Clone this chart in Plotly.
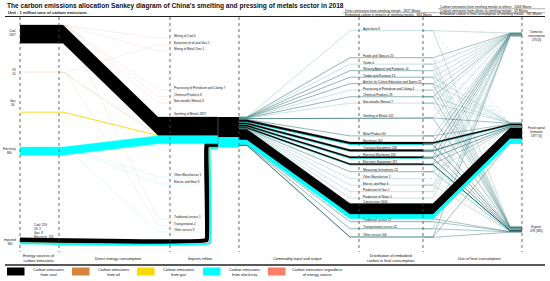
import plotly.graph_objects as go

# ---------------- data (1 million tons of carbon emissions) ----------------
energy_sources = ["Coal", "Oil", "Gas", "Electricity"]
direct_by_energy = [1927, 10, 30, 860]
imported_by_energy = [219, 2, 8, 155]
imported_total = 384

inflow_sectors = ["Mining of Coal", "Extraction of oil and Gas", "Mining of Metal Ores",
                  "Processing of Petroleum and Coking", "Chemical Products", "Non-metallic Mineral",
                  "Smelting of Metals", "Other Manufacture", "Electric and Heat",
                  "Traditional service", "Transportation", "Other service"]
inflow_values = [0, 2, 1, 7, 8, 3, 2827, 1, 8, 1, 2, 8]

final_sectors = ["Agriculture", "Foods and Tobacco", "Textile", "Wearing Apparel and Footwear",
                 "Timber and Furniture", "Articles for Culture Education and Sports",
                 "Processing of Petroleum and Coking", "Chemical Products", "Non-metallic Mineral",
                 "Smelting of Metals", "Metal Product", "Machinery", "Transport Equipment",
                 "Electrical Machinery", "Electronic Equipment", "Measuring Instruments",
                 "Other Manufacture", "Electric and Heat", "Production of Gas", "Production of Water",
                 "Construction", "Traditional service", "Transportation service", "Other service"]
final_values = [8, 20, 4, 14, 19, 22, 4, 28, 7, 101, 64, 302, 248, 226, 187, 23, 1, 6, 1, 1, 1606, 21, 24, 106]
to_domestic = [6, 16, 2, 8, 6, 8, 2, 14, 2, 5, 8, 20, 70, 60, 40, 5, 0.5, 4, 1, 1, 0, 8, 8, 40]
to_fcf = [0.5, 0.5, 0.5, 0.5, 6, 2, 0.5, 2, 2, 60, 36, 200, 120, 80, 20, 8, 0, 0.5, 0, 0, 1590, 0.5, 0.5, 10]
to_exports = [2, 4, 2, 6, 7, 12, 2, 12, 3, 36, 20, 82, 58, 86, 127, 10, 0.5, 2, 0, 0, 16, 12, 16, 56]

final_uses = ["Domestic<br>consumption", "Fixed capital<br>formation", "Exports"]
final_use_values = [276, 1877, 478]
final_use_bracket = [0, 0, 385]

summary_left = [("Direct emissions from smelting metals:", 2827),
                ("Embodied carbon in imports of smelting metals:", 384)]
summary_right = [("Carbon emissions from smelting metals to others:", 2446),
                 ("Carbon emissions from others to smelting metals:", 43),
                 ("Embodied carbon in final consumption of smelting metals:", 761)]

column_titles = ["Energy sources of<br>carbon emissions", "Direct energy consumption", "Imports inflow",
                 "Commodity input and output", "Distribution of embodied<br>carbon in final consumption",
                 "Use of final consumption"]
legend_labels = ["Carbon emissions<br>from coal", "Carbon emissions<br>from oil", "Carbon emissions<br>from gas",
                 "Carbon emissions<br>from electricity", "Carbon emissions regardless<br>of energy source"]

# ---------------- styles / layout constants ----------------
COLORS = {"Coal": "#000000", "Oil": "#D2873C", "Gas": "#FFD700", "Electricity": "#00FFFF",
          "Other": "#FA7E63"}
TEAL_DARK = "#2f6e6e"
TEAL_LIGHT = "#9ccaca"
SCALE = 0.0095                       # px per million tons
COL_X = [20, 59, 170, 239, 359, 423, 522]
W, H = 550, 281
FONT = "Liberation Sans, Arial, sans-serif"

energy_top = {"Coal": 25, "Oil": 72, "Gas": 112, "Electricity": 147}
energy_min_w = {"Coal": 1, "Oil": 0.35, "Gas": 0.9, "Electricity": 1}
energy_label_y = {"Coal": 33, "Oil": 72, "Gas": 103, "Electricity": 151}
import_row_y = 239
smelt_top = 117
block_x0, block_x1 = 218, COL_X[3]
riser_x = 205.5
inflow_label_y = [36, 42.5, 49, 88, 94.5, 101, 114, 175, 182, 217, 223.5, 230]
inflow_src = ["Coal", "Oil", "Coal", "Coal", "Coal", "Coal", None, "Electricity", "Electricity",
              "Coal", "Oil", "Electricity"]
row_label_y = [29, 56, 62.5, 69, 75.5, 82, 88.5, 95, 101.5, 116, 134, 140.5, 148, 155, 162, 170,
               177, 183.5, 190, 196.5, 202, 220, 227, 235]
final_top = [33, 123, 227]

fig = go.Figure()
polys = {}
thin = []


def band(px, py, t, color, min_w=0.5, dash=None, opacity=1.0):
    if t >= 1.0:
        xs = list(px) + list(px[::-1])
        ys = list(py) + [y + t for y in py[::-1]]
        b = polys.setdefault(color, ([], []))
        b[0].extend(xs + [None])
        b[1].extend(ys + [None])
    else:
        thin.append((list(px), [y + t / 2 for y in py], color, max(t, min_w), dash, opacity))


# ---- direct energy -> smelting of metals ----
y_cursor = smelt_top
for name, v in zip(energy_sources, direct_by_energy):
    t = v * SCALE
    s = energy_top[name]
    band([COL_X[0], 63, 158, block_x0], [s, s, y_cursor, y_cursor], t, COLORS[name],
         min_w=energy_min_w[name], opacity=0.6 if name == "Oil" else 1.0)
    y_cursor += t
direct_bottom = y_cursor

# ---- other sectors (faint hairlines from energy sources) ----
for lab_y, v, name, src in zip(inflow_label_y, inflow_values, inflow_sectors, inflow_src):
    if src is None:
        continue
    s = energy_top[src] + 0.5
    col = {"Coal": "#e3b9b0", "Oil": "#e8c4a4", "Electricity": "#7fe8e8"}[src]
    thin.append(([COL_X[1], 66, 158, 200], [s, s, lab_y + 2, lab_y + 2], col, 0.45, None, 0.45))

# ---- imports (L-shaped path) ----
imp_lines = []
off = 0.0
for name, v in zip(energy_sources, imported_by_energy):
    t = v * SCALE
    c = off + t / 2
    w = {"Coal": t + 2.8, "Oil": 0.25, "Gas": 0.3, "Electricity": t + 0.5}[name]
    imp_lines.append(([COL_X[0], riser_x + c, riser_x + c, block_x0],
                      [import_row_y + c, import_row_y + c, direct_bottom + c, direct_bottom + c],
                      COLORS[name], w))
    off += t + (1.4 if name == "Coal" else 0.0)

# ---- block composition ----
block_comp = [d + i for d, i in zip(direct_by_energy, imported_by_energy)]
block_total = sum(block_comp)
share = {n: v / block_total for n, v in zip(energy_sources, block_comp)}
comps = [("Coal", share["Coal"] + share["Oil"] + share["Gas"]), ("Electricity", share["Electricity"])]

# ---- outflows: block -> sector rows -> final uses ----
exit_cursor = smelt_top
dom_cursor = {0: final_top[0], 1: final_top[1], 2: final_top[2]}
for i, sec in enumerate(final_sectors):
    v = final_values[i]
    row_top = row_label_y[i] + 1.6
    T = v * SCALE
    if T < 1.2:
        col = TEAL_DARK if v >= 10 else TEAL_LIGHT
        thin.append(([COL_X[3], 247, 350, COL_X[5]], [exit_cursor + T / 2, exit_cursor + T / 2,
                                                        row_top + T / 2, row_top + T / 2],
                     col, max(T, 0.6), None, 0.85))
    else:
        o = 0
        for n, sh in comps:
            t = v * sh * SCALE
            band([COL_X[3], 247, 350, COL_X[5]], [exit_cursor + o, exit_cursor + o, row_top + o, row_top + o],
                 t, COLORS[n])
            o += t
    parts = [to_domestic[i], to_fcf[i], to_exports[i]]
    src_o = 0
    for f, pv in enumerate(parts):
        if pv <= 0:
            continue
        tf = pv * SCALE
        ys = row_top + src_o
        yt = dom_cursor[f]
        if tf < 1.2:
            dash = "dot" if pv < 1 else None
            col = TEAL_DARK if pv >= 10 else ("#7fb0b0" if pv >= 1 else "#a9cccc")
            thin.append(([COL_X[5], 433, 510, COL_X[6]], [ys + tf / 2, ys + tf / 2, yt + tf / 2, yt + tf / 2],
                         col, max(tf, 0.5), dash, 0.8))
        else:
            o = 0
            for n, sh in comps:
                t = pv * sh * SCALE
                band([COL_X[5], 433, 510, COL_X[6]], [ys + o, ys + o, yt + o, yt + o], t, COLORS[n])
                o += t
        src_o += tf
        dom_cursor[f] += tf
    exit_cursor += T

for xs, ys, color, w, dash, op in thin:
    fig.add_trace(go.Scatter(x=xs, y=ys, mode="lines", line=dict(color=color, width=w, dash=dash),
                             opacity=op, hoverinfo="skip", showlegend=False))

for xs, ys, color, w in imp_lines:
    fig.add_trace(go.Scatter(x=xs, y=ys, mode="lines", line=dict(color=color, width=w, shape="spline",
                                                                  smoothing=0.12),
                             hoverinfo="skip", showlegend=False))

for color in ["#00FFFF", "#FFD700", "#D2873C", "#000000"]:
    if color in polys:
        xs, ys = polys[color]
        fig.add_trace(go.Scatter(x=xs, y=ys, mode="lines", fill="toself", fillcolor=color,
                                 line=dict(width=0.3, color=color), hoverinfo="skip", showlegend=False))

# ---- block (commodity node) ----
yb = smelt_top
for n in ["Coal", "Oil", "Gas", "Electricity"]:
    t = block_comp[energy_sources.index(n)] * SCALE
    fig.add_shape(type="rect", x0=block_x0, x1=block_x1, y0=yb, y1=yb + max(t, 0.4),
                  fillcolor=COLORS[n], line=dict(width=0))
    yb += t
fig.add_shape(type="line", x0=block_x0, x1=block_x0, y0=smelt_top, y1=yb, line=dict(color="#777", width=0.6))

# ---- frame lines ----
for x in COL_X:
    fig.add_shape(type="line", x0=x, x1=x, y0=17, y1=252, line=dict(color="#444", width=0.8, dash="dot"))
fig.add_shape(type="line", x0=5, x1=545, y0=16.5, y1=16.5, line=dict(color="#222", width=1.2))
fig.add_shape(type="line", x0=5, x1=545, y0=265, y1=265, line=dict(color="#222", width=1.5))

ann = []


def txt(x, y, s, size=3.2, xa="left", ya="middle", bold=False, align="left", color="#111"):
    ann.append(dict(x=x, y=y, xref="x", yref="y", text=("<b>%s</b>" % s) if bold else s, showarrow=False,
                    xanchor=xa, yanchor=ya, align=align, font=dict(family=FONT, size=size, color=color)))


txt(5, 6, "The carbon emissions allocation Sankey diagram of China's smelting and pressing of metals sector in 2018",
    size=6.6, bold=True)
txt(6, 12.5, "Unit : 1 million tons of carbon emissions", size=4.1, bold=True)

for k, (s, v) in enumerate(summary_left):
    txt(343, 10.5 + 4 * k, "%s  %d Mtons" % (s, v), size=3.3)
for k, (s, v) in enumerate(summary_right):
    txt(438, 6.8 + 3.8 * k, "%s  %d Mtons" % (s, v), size=3.3)
for y, x0, x1 in [(12.6, 343, 437), (8.8, 438, 545), (12.6, 438, 545)]:
    fig.add_shape(type="line", x0=x0, x1=x1, y0=y, y1=y, line=dict(color="#333", width=0.4))

vals = dict(zip(energy_sources, direct_by_energy))
for n in energy_sources:
    txt(18, energy_label_y[n], "%s<br>%d" % (n, vals[n]), size=3.0, xa="right", align="center")
txt(18, 242, "Imported<br>%d" % imported_total, size=3.0, xa="right", align="center")
txt(32, 230.5, "<br>".join("%s: %d" % (n, v) for n, v in zip(energy_sources, imported_by_energy)), size=3.0)

for y, n, v in zip(inflow_label_y, inflow_sectors, inflow_values):
    txt(172, y, "%s %d" % (n, v), size=3.0)

for y, n, v in zip(row_label_y, final_sectors, final_values):
    txt(361, y, "%s %d" % (n, v), size=3.0)

fu_label_y = [36, 132, 229]
for y, n, v, b in zip(fu_label_y, final_uses, final_use_values, final_use_bracket):
    txt(536, y, "%s<br>%d [%d]" % (n, v, b), size=3.0, xa="center", align="center")

for x, s in zip([39, 118, 200, 298, 390, 479], column_titles):
    txt(x, 258, s, size=3.9, xa="center", align="center")

leg_colors = [COLORS["Coal"], COLORS["Oil"], COLORS["Gas"], COLORS["Electricity"], COLORS["Other"]]
leg_x = [7, 72, 137, 203, 268]
for x, c, s in zip(leg_x, leg_colors, legend_labels):
    fig.add_shape(type="rect", x0=x, x1=x + 17.5, y0=267.5, y1=275.5, fillcolor=c, line=dict(width=0))
    txt(x + 41 + (8 if "regardless" in s else 0), 271.5, s, size=3.9, xa="center", align="center")

fig.update_layout(
    width=W, height=H, margin=dict(l=0, r=0, t=0, b=0),
    paper_bgcolor="white", plot_bgcolor="white", showlegend=False,
    xaxis=dict(range=[0, W], visible=False, fixedrange=True),
    yaxis=dict(range=[H, 0], visible=False, fixedrange=True),
    annotations=ann,
)
fig.write_html("out.html", config={"displayModeBar": False},
               post_script="document.body.style.margin='0';document.body.style.overflow='hidden';")
